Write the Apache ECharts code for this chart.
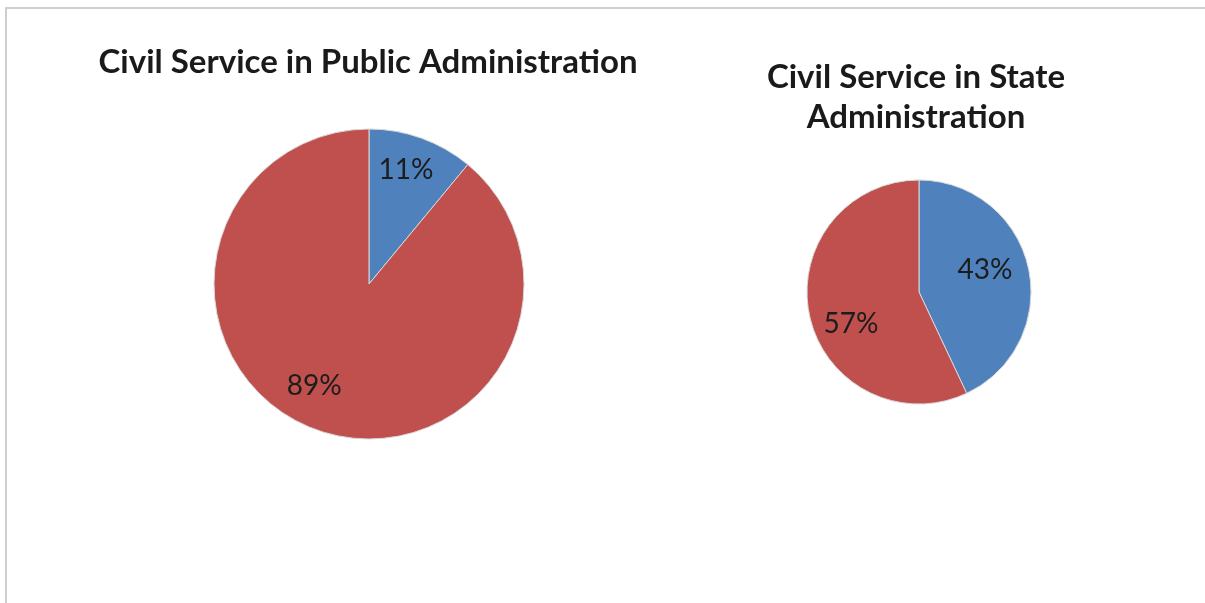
<!DOCTYPE html>
<html>
<head>
<meta charset="utf-8">
<script src="https://cdn.jsdelivr.net/npm/echarts@6/dist/echarts.min.js"></script>
<style>
html,body{margin:0;padding:0;background:#fff;}
#chart{width:1205px;height:603px;}
</style>
</head>
<body>
<div id="chart"></div>
<script>
// Data
const categories = ['Blue share', 'Red share'];
const publicAdminValues = [11, 89];
const stateAdminValues = [43, 57];
const titles = ['Civil Service in Public Administration', 'Civil Service in State\nAdministration'];

const colors = ['#4F81BD', '#C0504D'];
const fontFam = 'Lato, "Open Sans", sans-serif';

function pieSeries(values, center, radius, labelRatio, labelOffsets) {
  const base = categories.map((c, i) => ({ name: c, value: values[i] }));
  const labelled = categories.map((c, i) => ({
    name: c, value: values[i], label: { offset: labelOffsets[i] }
  }));
  return [
    {
      type: 'pie',
      center: center,
      radius: radius,
      startAngle: 90,
      clockwise: true,
      animation: false,
      silent: true,
      label: { show: false },
      labelLine: { show: false },
      itemStyle: { borderColor: '#d8d8d8', borderWidth: 1 },
      data: base
    },
    {
      type: 'pie',
      center: center,
      radius: [radius * (2 * labelRatio - 1), radius],
      startAngle: 90,
      clockwise: true,
      animation: false,
      silent: true,
      itemStyle: { color: 'rgba(0,0,0,0)' },
      label: {
        show: true,
        position: 'inside',
        formatter: '{c}%',
        color: '#1c1c1c',
        fontSize: 28,
        fontFamily: fontFam
      },
      labelLine: { show: false },
      data: labelled
    }
  ];
}

const chart = echarts.init(document.getElementById('chart'), null, { renderer: 'canvas' });
chart.setOption({
  backgroundColor: '#ffffff',
  color: colors,
  animation: false,
  graphic: [
    {
      type: 'rect',
      shape: { x: 6, y: 8, width: 1220, height: 620 },
      style: { fill: 'none', stroke: '#cfcfcf', lineWidth: 2 },
      silent: true
    },
    {
      type: 'text',
      x: 368, y: 62,
      style: {
        text: titles[0],
        font: 'bold 33px ' + fontFam,
        fill: '#1a1a1a',
        textAlign: 'center',
        textVerticalAlign: 'middle'
      }
    },
    {
      type: 'text',
      x: 916, y: 97,
      style: {
        text: titles[1],
        font: 'bold 33px ' + fontFam,
        lineHeight: 40,
        fill: '#1a1a1a',
        textAlign: 'center',
        textVerticalAlign: 'middle'
      }
    }
  ],
  series: [].concat(
    pieSeries(publicAdminValues, [369, 284], 155, 0.74, [[-3, -3], [-15, -9]]),
    pieSeries(stateAdminValues, [919, 292], 112, 0.65, [[-8, -5], [6, 15]])
  )
});
</script>
</body>
</html>
